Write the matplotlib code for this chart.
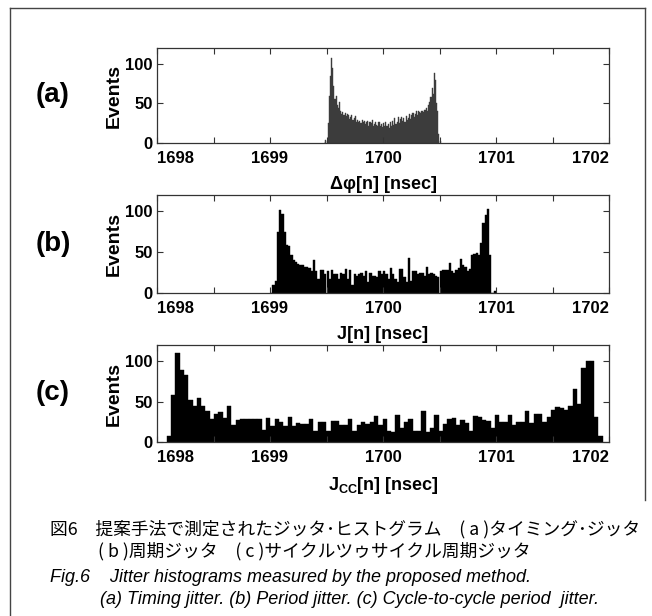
import numpy as np
import matplotlib.pyplot as plt
from matplotlib.lines import Line2D

plt.rcParams['font.family'] = 'Liberation Sans'
plt.rcParams['font.weight'] = 'bold'
plt.rcParams['mathtext.fontset'] = 'custom'
plt.rcParams['mathtext.rm'] = 'Liberation Sans:bold'
plt.rcParams['mathtext.bf'] = 'Liberation Sans:bold'
plt.rcParams['mathtext.it'] = 'Liberation Sans:bold'

# (a) timing jitter, bins of 0.01 ns starting at a_start
a_start, a_width = 1699.48, 0.01
a_counts = [0, 4, 2, 25, 60, 85, 108, 95, 72, 55,
            60, 48, 44, 52, 40, 37, 39, 36, 38, 34,
            37, 35, 30, 33, 36, 29, 31, 34, 27, 29,
            26, 28, 25, 29, 27, 28, 24, 26, 28, 22,
            27, 25, 29, 22, 24, 27, 23, 21, 26, 22,
            24, 20, 25, 22, 27, 21, 24, 19, 26, 22,
            28, 23, 31, 24, 27, 33, 25, 30, 33, 28,
            32, 27, 34, 29, 32, 37, 30, 35, 38, 33,
            37, 40, 36, 41, 39, 38, 40, 39, 42, 42,
            44, 40, 48, 52, 58, 70, 62, 88, 80, 50,
            40, 12, 2]

# (b) period jitter, bins of 0.02 ns
b_start, b_width = 1699.00, 0.02
b_counts = [0, 10, 15, 75, 102, 97, 75, 59, 57, 46,
            40, 38, 36, 34, 34, 32, 32, 31, 27, 40,
            27, 17, 28, 28, 23, 27, 17, 28, 23, 23,
            17, 25, 23, 30, 17, 28, 10, 23, 21, 23,
            25, 21, 27, 14, 25, 21, 21, 19, 27, 23,
            27, 23, 17, 31, 23, 17, 14, 30, 30, 19,
            14, 43, 15, 27, 27, 23, 24, 24, 21, 32,
            23, 25, 23, 21, 19, 27, 28, 28, 28, 37,
            27, 25, 28, 31, 42, 34, 32, 27, 30, 46,
            48, 49, 46, 61, 86, 96, 103, 47, 0, 2]

# (c) cycle-to-cycle period jitter, 101 bins between c_start and c_stop
c_start, c_stop = 1698.085, 1701.945
c_counts = [8, 58, 110, 89, 83, 52, 45, 54, 45, 38,
            28, 35, 37, 30, 45, 21, 27, 29, 29, 29,
            29, 29, 15, 30, 20, 29, 25, 20, 31, 20,
            24, 22, 22, 29, 14, 25, 25, 14, 26, 26,
            21, 21, 29, 14, 21, 25, 22, 25, 32, 21,
            29, 13, 12, 34, 17, 25, 29, 14, 14, 38,
            12, 17, 34, 14, 22, 29, 30, 21, 27, 24,
            13, 32, 31, 27, 26, 17, 34, 25, 25, 34,
            21, 25, 25, 38, 23, 35, 35, 25, 31, 39,
            43, 42, 39, 44, 65, 47, 91, 100, 100, 31,
            7]

a_edges = a_start + a_width * np.arange(len(a_counts) + 1)
b_edges = b_start + b_width * np.arange(len(b_counts) + 1)
c_edges = np.linspace(c_start, c_stop, len(c_counts) + 1)

panels = [
    ('(a)', a_edges, a_counts, 'Δφ[n] [nsec]', '#3c3c3c'),
    ('(b)', b_edges, b_counts, 'J[n] [nsec]', 'black'),
    ('(c)', c_edges, c_counts, r'J$_{\mathbf{CC}}$[n] [nsec]', 'black'),
]

W, H = 652, 616
fig = plt.figure(figsize=(W / 100, H / 100), dpi=100)

# axes boxes in pixels: top, bottom
boxes = [(48, 143), (195, 293), (345, 442)]
left_px, right_px = 157, 609

for (tag, edges, counts, xlab, col), (top, bot) in zip(panels, boxes):
    ax = fig.add_axes([left_px / W, 1 - bot / H, (right_px - left_px) / W, (bot - top) / H])
    ax.bar(edges[:-1], counts, width=np.diff(edges), align='edge',
           color=col, edgecolor=col, linewidth=0.3)
    ax.set_xlim(1698, 1702)
    ax.set_ylim(0, 120)
    ax.set_xticks([1698, 1699, 1700, 1701, 1702])
    ax.set_xticks(np.arange(1698.5, 1702, 1.0), minor=True)
    ax.set_yticks([0, 50, 100])
    ax.tick_params(which='both', direction='in', top=True, right=True,
                   length=4, width=0.8, labelsize=12, color='#333333')
    ax.tick_params(axis='x', pad=6)
    ax.tick_params(axis='y', pad=3)
    for lbl in ax.get_xticklabels() + ax.get_yticklabels():
        lbl.set_fontweight('bold')
    xl = ax.get_xticklabels()
    xl[0].set_horizontalalignment('left')
    xl[-1].set_horizontalalignment('right')
    for s in ax.spines.values():
        s.set_linewidth(0.9)
        s.set_color('#333333')
    ax.set_ylabel('Events', fontsize=14, fontweight='bold', labelpad=2)
    ax.set_xlabel(xlab, fontsize=13, fontweight='bold', labelpad=7)
    fig.text(53 / W, 1 - ((top + bot) / 2) / H, tag, fontsize=20,
             fontweight='bold', ha='center', va='center')

# outer frame
fx0, fx1, fy0 = 10 / W, 645 / W, 1 - 8 / H
fig.add_artist(Line2D([fx0, fx1], [fy0, fy0], color='#444444', lw=1))
fig.add_artist(Line2D([fx0, fx0], [fy0, 0], color='#444444', lw=1))
fig.add_artist(Line2D([fx1, fx1], [fy0, 1 - 500 / H], color='#444444', lw=1))

jp = ['Noto Sans CJK JP', 'DejaVu Sans']
fig.text(50 / W, 1 - 529 / H,
         '図6　提案手法で測定されたジッタ･ヒストグラム　( a )タイミング･ジッタ',
         family=jp, fontsize=12.8, fontweight='normal', va='center')
fig.text(98 / W, 1 - 551 / H,
         '( b )周期ジッタ　( c )サイクルツゥサイクル周期ジッタ',
         family=jp, fontsize=12.8, fontweight='normal', va='center')
fig.text(50 / W, 1 - 578 / H,
         'Fig.6    Jitter histograms measured by the proposed method.',
         fontsize=13, fontweight='normal', style='italic', va='center')
fig.text(100 / W, 1 - 599 / H,
         '(a) Timing jitter. (b) Period jitter. (c) Cycle-to-cycle period  jitter.',
         fontsize=13, fontweight='normal', style='italic', va='center')

fig.savefig('out.png', dpi=100)
